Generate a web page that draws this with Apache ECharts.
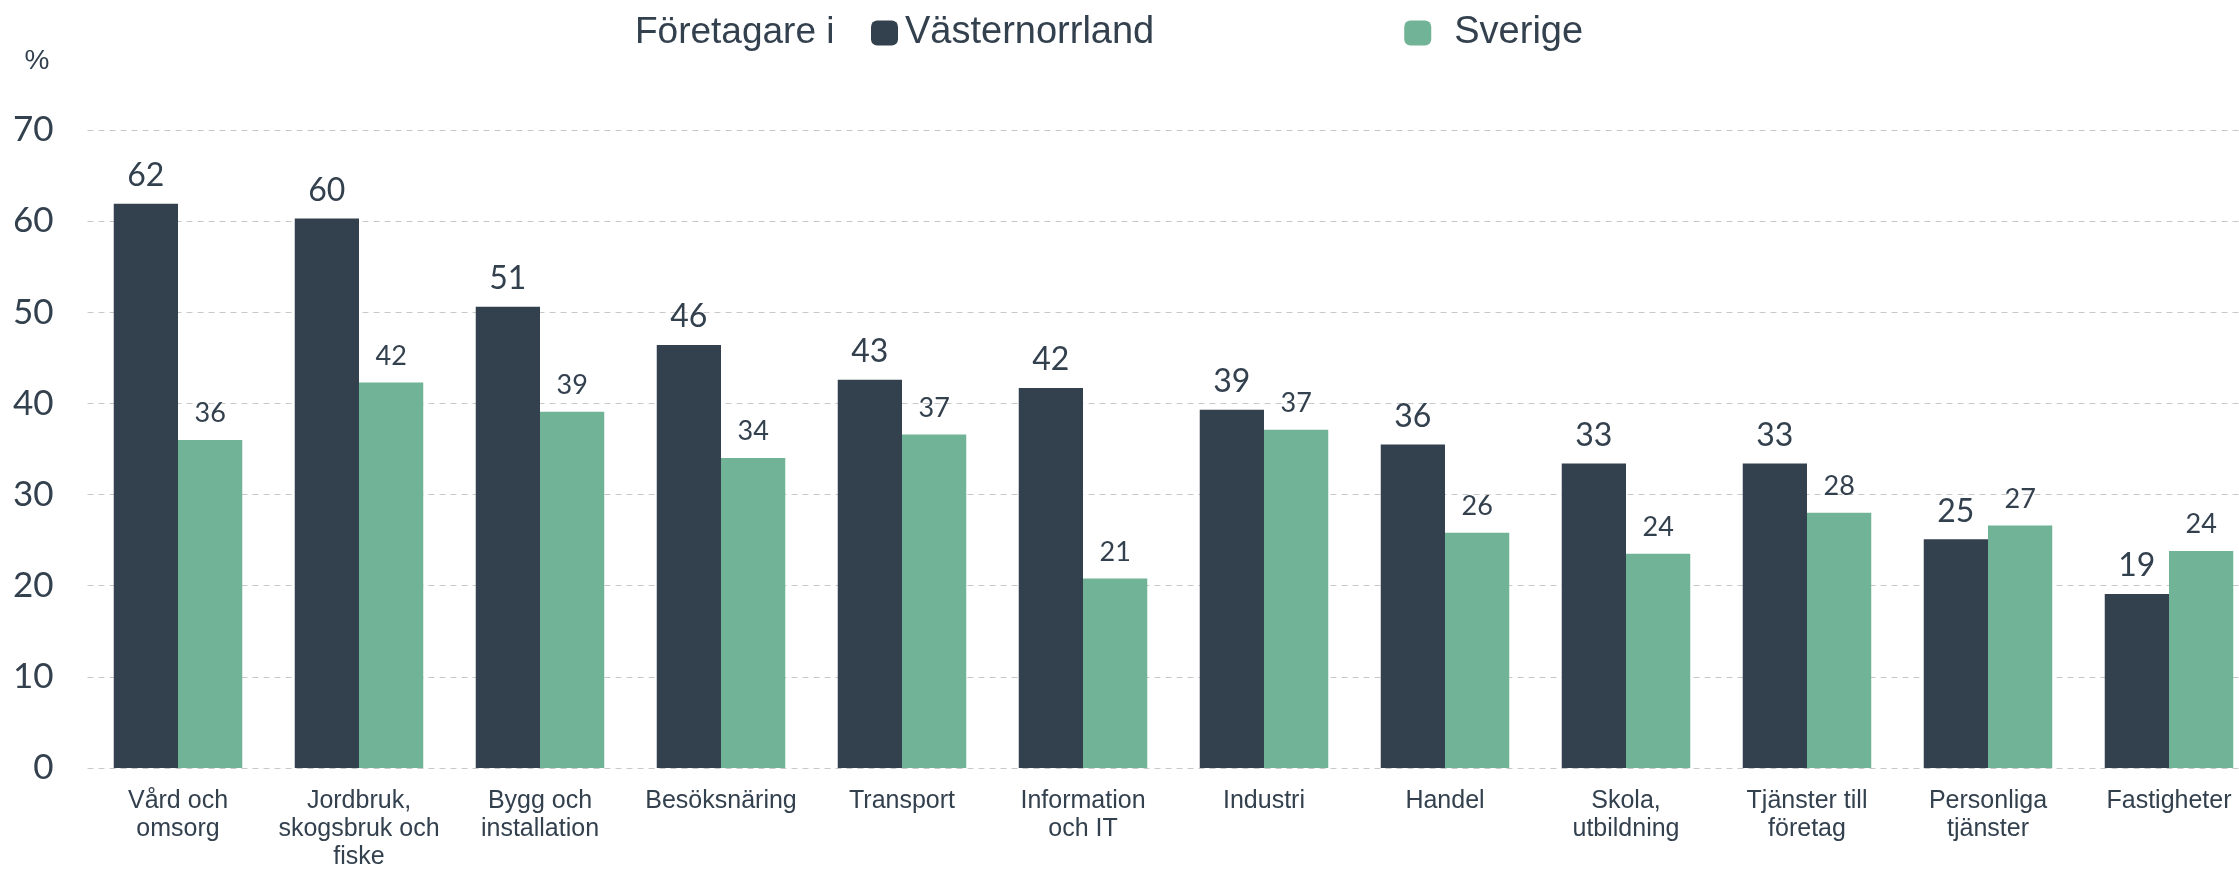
<!DOCTYPE html>
<html>
<head>
<meta charset="utf-8">
<script src="https://cdn.jsdelivr.net/npm/echarts@6/dist/echarts.min.js"></script>
<style>
  html, body { margin: 0; padding: 0; background: #fff; }
  #main { width: 2239px; height: 871px; }
</style>
</head>
<body>
<div id="main"></div>
<script>
const categories = [
  'Vård och\nomsorg', 'Jordbruk,\nskogsbruk och\nfiske', 'Bygg och\ninstallation',
  'Besöksnäring', 'Transport', 'Information\noch IT', 'Industri', 'Handel',
  'Skola,\nutbildning', 'Tjänster till\nföretag', 'Personliga\ntjänster', 'Fastigheter'
]
const vasternorrland = [61.9, 60.3, 50.6, 46.4, 42.6, 41.7, 39.3, 35.5, 33.4, 33.4, 25.1, 19.1]
const sverige = [36.0, 42.3, 39.1, 34.0, 36.6, 20.8, 37.1, 25.8, 23.5, 28.0, 26.6, 23.8]

const dark = '#33404e'
const green = '#71b397'
const numFont = 'Lato'

const myChart = echarts.init(document.getElementById('main'))

myChart.setOption({
  backgroundColor: '#fff',
  animation: false,
  title: {
    text: 'Företagare i',
    left: 630,
    top: 9,
    textStyle: {
      fontFamily: 'Liberation Sans',
      fontWeight: 'normal',
      fontSize: 37,
      color: dark
    }
  },
  legend: {
    left: 866,
    top: 9,
    itemWidth: 27,
    itemHeight: 25,
    itemGap: 250,
    icon: 'roundRect',
    textStyle: {
      fontFamily: 'Liberation Sans',
      fontSize: 38,
      color: dark,
      padding: [0, 0, 0, 2]
    },
    data: [
      'Västernorrland',
      { name: 'Sverige', textStyle: { padding: [0, 0, 0, 18] } }
    ]
  },
  grid: {
    left: 87.5,
    width: 2172,
    top: 130,
    bottom: 103,
    containLabel: false,
    outerBoundsMode: 'none'
  },
  xAxis: {
    type: 'category',
    data: categories,
    axisLine: { show: false },
    axisTick: { show: false },
    axisLabel: {
      interval: 0,
      margin: 19,
      fontFamily: 'Liberation Sans',
      fontSize: 25,
      lineHeight: 28,
      color: dark
    }
  },
  yAxis: {
    type: 'value',
    min: 0,
    max: 70,
    interval: 10,
    name: '%',
    nameLocation: 'end',
    nameGap: 55,
    nameTextStyle: {
      fontFamily: 'Liberation Sans',
      fontSize: 28,
      color: dark,
      align: 'right',
      padding: [0, 38, 0, 0]
    },
    axisLine: { show: false },
    axisTick: { show: false },
    axisLabel: {
      margin: 34,
      fontFamily: numFont,
      fontSize: 35,
      color: dark
    },
    splitLine: {
      lineStyle: { type: [6, 5], color: '#c8c8c8', width: 1 }
    }
  },
  series: [
    {
      name: 'Västernorrland',
      type: 'bar',
      data: vasternorrland,
      barGap: '0%',
      barCategoryGap: '29%',
      itemStyle: { color: dark },
      label: {
        show: true,
        position: 'top',
        distance: 12,
        fontFamily: numFont,
        fontSize: 32,
        color: dark,
        formatter: (p) => Math.round(p.value)
      }
    },
    {
      name: 'Sverige',
      type: 'bar',
      data: sverige,
      itemStyle: { color: green },
      label: {
        show: true,
        position: 'top',
        distance: 13,
        fontFamily: numFont,
        fontSize: 27,
        color: dark,
        formatter: (p) => Math.round(p.value)
      }
    }
  ]
})
</script>
</body>
</html>
